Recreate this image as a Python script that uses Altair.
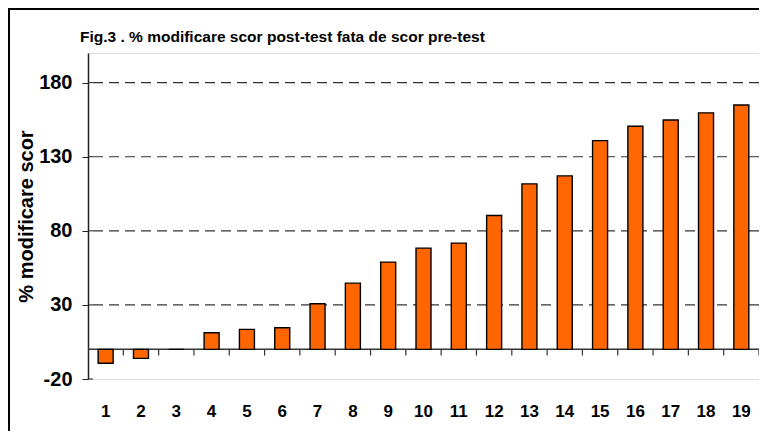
import altair as alt
import pandas as pd

categories = [str(i) for i in range(1, 20)]
values = [-9.4, -6.1, 0, 11.2, 13.5, 14.6, 30.8, 44.7, 58.9, 68.3, 71.7,
          90.3, 111.7, 117.1, 140.9, 150.6, 154.8, 159.6, 164.9]
y_ticks = [-20, 30, 80, 130, 180]
grid_values = [30, 80, 130, 180]
title_text = "Fig.3 . % modificare scor post-test fata de scor pre-test"

df = pd.DataFrame({"cat": categories, "val": values})
grid_df = pd.DataFrame({"g": grid_values})
tick_df = pd.DataFrame({"t": y_ticks})

FONT = "Liberation Sans"
x_scale = alt.Scale(paddingInner=0, paddingOuter=0)
y_scale = alt.Scale(domain=[-20, 200], nice=False, zero=False)

x_axis = alt.Axis(labelAngle=0, domain=False, ticks=False,
                  labelPadding=24, labelFontSize=17,
                  labelFontWeight="bold", labelFont=FONT,
                  labelColor="#000000")
y_axis = alt.Axis(values=y_ticks, grid=False, domainColor="#222222",
                  domainWidth=1.5, tickColor="#222222", tickSize=6,
                  tickWidth=1, labelPadding=10, labelFontSize=20,
                  labelFontWeight="bold", labelFont=FONT,
                  labelColor="#000000",
                  labelExpr="'' + datum.value",
                  title="% modificare scor",
                  titleFontSize=20, titleFontWeight="bold",
                  titleFont=FONT, titleColor="#000000",
                  titleX=-62, titleY=163, titleAlign="center",
                  titleBaseline="middle")

bars = alt.Chart(df).mark_bar(size=15, color="#FF6600", stroke="#000000",
                              strokeWidth=1.4).encode(
    x=alt.X("cat:O", sort=categories, scale=x_scale, title=None, axis=x_axis),
    y=alt.Y("val:Q", scale=y_scale, axis=y_axis),
)

grid = alt.Chart(grid_df).mark_rule(color="#333333", strokeWidth=1.2,
                                    strokeDash=[10, 6]).encode(
    y=alt.Y("g:Q", scale=y_scale, axis=y_axis),
)

inner_ticks = alt.Chart(tick_df).mark_rule(color="#222222", strokeWidth=1).encode(
    y=alt.Y("t:Q", scale=y_scale, axis=y_axis),
    x=alt.value(0), x2=alt.value(5),
)

zero_line = alt.Chart(pd.DataFrame({"z": [0]})).mark_rule(
    color="#333333", strokeWidth=1.5).encode(
    y=alt.Y("z:Q", scale=y_scale, axis=y_axis),
)

cat_ticks = alt.Chart(df).mark_rule(color="#333333", strokeWidth=1.2).encode(
    x=alt.X("cat:O", sort=categories, scale=x_scale, bandPosition=1,
            title=None, axis=x_axis),
    y=alt.datum(0, type="quantitative", scale=y_scale, axis=y_axis),
    y2=alt.datum(-4.2),
)

title = alt.Chart(alt.Data(values=[{"t": title_text}])).mark_text(
    align="left", baseline="alphabetic", fontSize=15.5, fontWeight="bold",
    font=FONT, color="#000000").encode(
    text="t:N", x=alt.value(-8), y=alt.value(-11),
)

frame_top = alt.Chart(alt.Data(values=[{}])).mark_rule(
    color="#000000", strokeWidth=2).encode(
    x=alt.value(-80), x2=alt.value(671), y=alt.value(-44),
)
frame_left = alt.Chart(alt.Data(values=[{}])).mark_rule(
    color="#000000", strokeWidth=2).encode(
    x=alt.value(-79), y=alt.value(-45), y2=alt.value(378),
)

chart = alt.layer(grid, zero_line, bars, cat_ticks, inner_ticks, title,
                  frame_top, frame_left).properties(
    width=671, height=326,
    autosize=alt.AutoSizeParams(type="none"),
    padding={"left": 80, "top": 45, "right": 0, "bottom": 52},
).configure_view(stroke="#9a9a9a", strokeWidth=1.5).configure(background="white")

chart.save("out.html", embed_options={"renderer": "svg", "actions": False})
